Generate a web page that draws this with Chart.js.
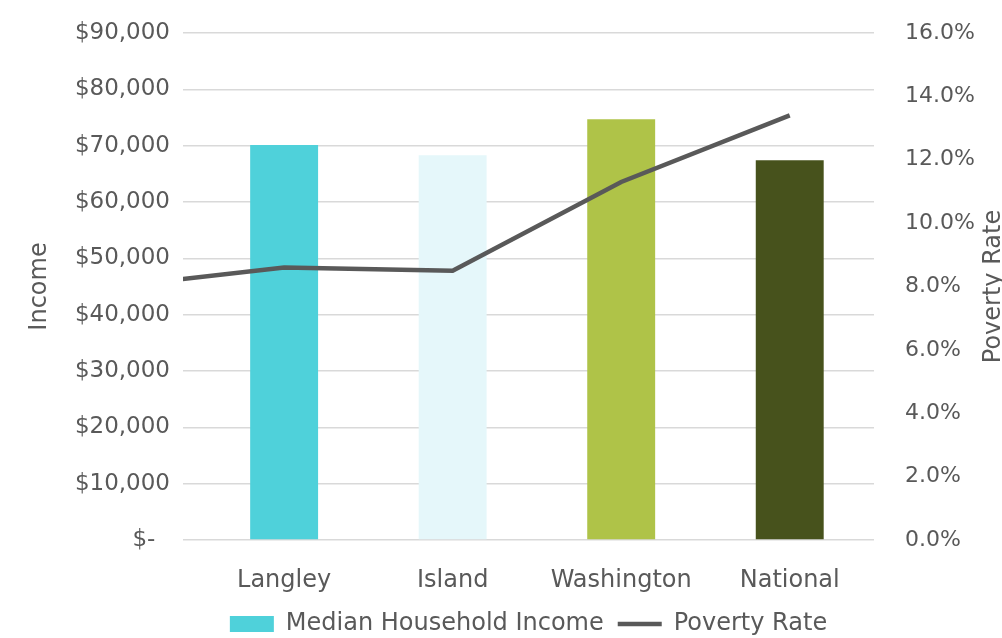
<!DOCTYPE html>
<html>
<head>
<meta charset="utf-8">
<script src="https://cdn.jsdelivr.net/npm/chart.js@4.4.0/dist/chart.umd.min.js"></script>
<style>
  html, body { margin: 0; padding: 0; background: #ffffff; }
  #wrap { width: 1002px; height: 638px; position: relative; }
</style>
</head>
<body>
<div id="wrap"><canvas id="c" width="1002" height="638"></canvas></div>
<script>
const categories = ["Langley", "Island", "Washington", "National"];
const incomeValues = [70100, 68300, 74700, 67400];
const barColors = ["#4FD1DA", "#E5F7FA", "#AFC348", "#47521C"];
// poverty rate (%) : a leading value before Langley (line enters from the left edge), then the four categories
const povertyPositions = [-1, 0, 1, 2, 3];
const povertyValues = [8.0, 8.6, 8.5, 11.3, 13.4];
const incomeTicks = [0, 10000, 20000, 30000, 40000, 50000, 60000, 70000, 80000, 90000];
const rateTicks = [0, 2, 4, 6, 8, 10, 12, 14, 16];
const rightTitle = "Poverty Rate";

const FONT = "'DejaVu Sans', sans-serif";
const TXT = "#595959";

// right-axis title, reading bottom-to-top like the reference
const rightTitlePlugin = {
  id: 'rightTitle',
  afterDraw(chart) {
    const s = chart.scales.yR;
    const ctx = chart.ctx;
    ctx.save();
    ctx.translate(s.right - 8, (s.top + s.bottom) / 2);
    ctx.rotate(-Math.PI / 2);
    ctx.font = "24px " + FONT;
    ctx.fillStyle = TXT;
    ctx.textAlign = 'center';
    ctx.textBaseline = 'middle';
    ctx.fillText(rightTitle, 0, 0);
    ctx.restore();
  }
};

new Chart(document.getElementById('c'), {
  data: {
    datasets: [
      {
        type: 'line',
        label: 'Poverty Rate',
        data: povertyPositions.map((x, i) => ({ x: x, y: povertyValues[i] })),
        borderColor: '#595959',
        backgroundColor: '#595959',
        borderWidth: 4.5,
        pointRadius: 0,
        tension: 0,
        yAxisID: 'yR',
        xAxisID: 'x',
        order: 0,
        pointStyle: 'line'
      },
      {
        type: 'bar',
        label: 'Median Household Income',
        data: incomeValues.map((v, i) => ({ x: i, y: v })),
        backgroundColor: barColors,
        borderWidth: 0,
        barPercentage: 0.403,
        categoryPercentage: 1,
        yAxisID: 'yL',
        xAxisID: 'x',
        order: 1,
        pointStyle: 'rect'
      }
    ]
  },
  plugins: [rightTitlePlugin],
  options: {
    responsive: false,
    animation: false,
    devicePixelRatio: 1,
    layout: { padding: { left: 0, right: 0, top: 33, bottom: -8 } },
    plugins: {
      tooltip: { enabled: false },
      legend: {
        position: 'bottom',
        reverse: true,
        fullSize: false,
        labels: {
          font: { family: FONT, size: 24 },
          color: TXT,
          usePointStyle: true,
          pointStyleWidth: 44,
          boxHeight: 16,
          padding: 14
        }
      }
    },
    scales: {
      x: {
        type: 'linear',
        offset: false,
        min: -0.6,
        max: 3.5,
        afterBuildTicks: (axis) => { axis.ticks = categories.map((c, i) => ({ value: i })); },
        afterFit: (s) => { s.height = 58; s.paddingLeft = 0; s.paddingRight = 0; },
        ticks: {
          callback: (v) => categories[v] ?? '',
          font: { family: FONT, size: 24 },
          color: TXT,
          padding: 18,
          autoSkip: false,
          maxRotation: 0
        },
        grid: { display: false },
        border: { display: false }
      },
      yL: {
        type: 'linear',
        position: 'left',
        min: 0,
        max: 90000,
        afterBuildTicks: (axis) => { axis.ticks = incomeTicks.map(v => ({ value: v })); },
        afterFit: (s) => { s.width = 183; s.paddingTop = 0; s.paddingBottom = 0; },
        ticks: {
          callback: (v) => v === 0 ? '$-  ' : '$' + v.toLocaleString('en-US'),
          font: { family: FONT, size: 23 },
          color: TXT,
          padding: 13
        },
        grid: { color: '#D9D9D9', lineWidth: 1.5, drawTicks: false },
        border: { display: false },
        title: {
          display: true,
          text: 'Income',
          font: { family: FONT, size: 24 },
          color: TXT,
          padding: { top: 25, bottom: 0 }
        }
      },
      yR: {
        type: 'linear',
        position: 'right',
        min: 0,
        max: 16,
        afterBuildTicks: (axis) => { axis.ticks = rateTicks.map(v => ({ value: v })); },
        afterFit: (s) => { s.width = 128; s.paddingTop = 0; s.paddingBottom = 0; },
        ticks: {
          callback: (v) => v.toFixed(1) + '%',
          font: { family: FONT, size: 22 },
          color: TXT,
          padding: 31
        },
        grid: { display: false, drawTicks: false },
        border: { display: false }
      }
    }
  }
});
</script>
</body>
</html>
